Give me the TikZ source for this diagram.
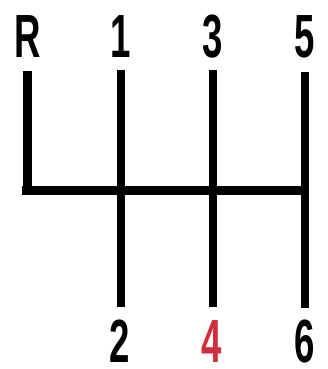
\documentclass[tikz,border=0pt]{standalone}
\usepackage{fontspec}
\newfontfamily\gearfont{Liberation Sans}[FakeStretch=0.6]
\usepackage{tikz}
\definecolor{gearred}{RGB}{208,46,60}

\begin{document}
\begin{tikzpicture}[x=1pt, y=-1pt,
    gear/.style={font=\gearfont\bfseries\fontsize{61}{61}\selectfont,
                 inner sep=0pt, anchor=base},
    rod/.style={line width=8.5pt}]
    \useasboundingbox (0,0) rectangle (327,369);
    % gear labels
    \node[gear] (r)  at (27.5,57)  {R};
    \node[gear] (g1) at (121,57)   {1};
    \node[gear] (g3) at (213,57)   {3};
    \node[gear] (g5) at (305,57)   {5};
    \node[gear] (g2) at (120,362)  {2};
    \node[gear, gearred] (g4) at (212,362) {4};
    \node[gear] (g6) at (305,362)  {6};
    % rod ends and joints
    \coordinate (rtop) at (27.5,71);
    \coordinate (top1) at (121,70);
    \coordinate (top3) at (213,70);
    \coordinate (top5) at (305,72);
    \coordinate (rjoin) at (27.5,190.5);
    \coordinate (j1) at (121,190.5);
    \coordinate (j3) at (213,190.5);
    \coordinate (j5) at (305,190.5);
    \coordinate (bot2) at (121,307);
    \coordinate (bot4) at (213,307);
    \coordinate (bot6) at (305,308);
    \coordinate (barl) at (22,190.5);
    \coordinate (barr) at (309,190.5);
    % shift gate
    \draw[rod] (barl) -- (barr);
    \draw[rod] (rtop) -- (rjoin);
    \draw[rod] (top1) -- (j1) -- (bot2);
    \draw[rod] (top3) -- (j3) -- (bot4);
    \draw[rod] (top5) -- (j5) -- (bot6);
\end{tikzpicture}
\end{document}
